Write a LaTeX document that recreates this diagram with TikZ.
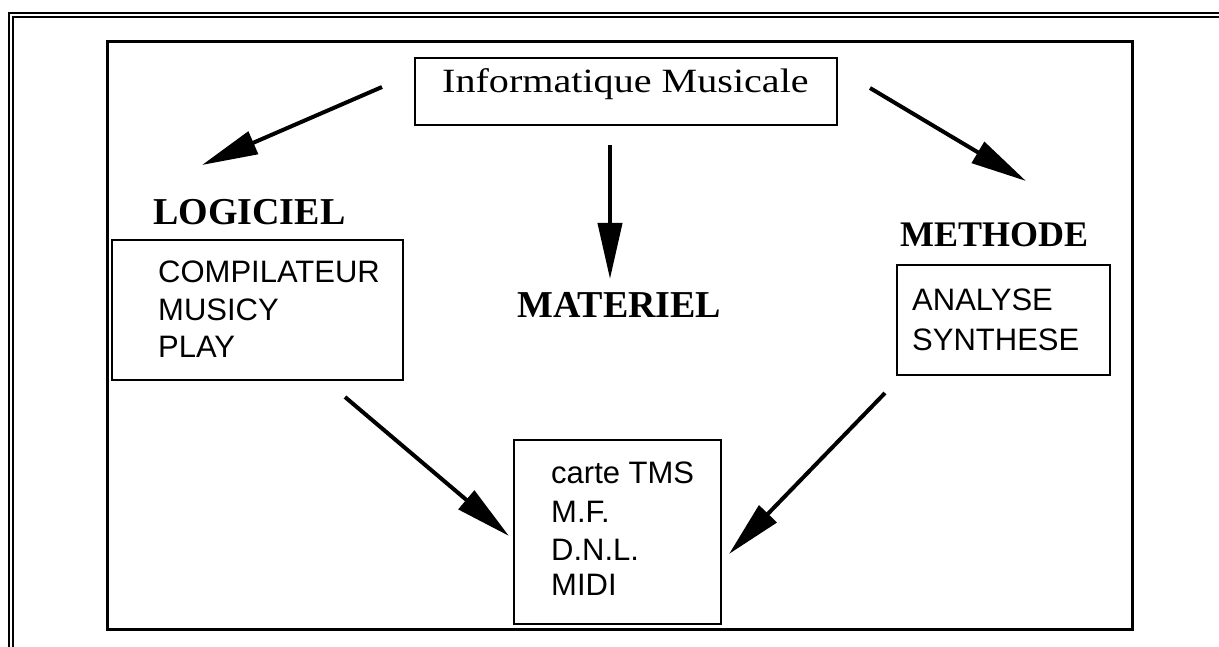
\documentclass[tikz,border=0pt]{standalone}
\usepackage{fontspec}
\setmainfont{Liberation Serif}
\newfontfamily\wideserif[FakeStretch=1.18]{Liberation Serif}
\newfontfamily\sansf{Liberation Sans}
\usetikzlibrary{arrows.meta}
\tikzset{
  box/.style={draw, line width=2pt, inner sep=0pt, minimum width=#1},
  item/.style={anchor=base west, inner sep=0pt, font=\sansf\fontsize{31}{37}\selectfont},
  head/.style={anchor=base west, inner sep=0pt},
  arr/.style={line width=4pt, -{Triangle[length=56pt,width=24pt]}},
}
\begin{document}
\begin{tikzpicture}[x=1pt,y=-1pt]
\useasboundingbox (0,0) rectangle (1219,647);
% outer double frame
\draw[line width=2pt] (9,647) -- (9,13.3) -- (1219,13.3);
\draw[line width=2pt] (13,647) -- (13,16.7) -- (1219,16.7);
% inner frame
\draw[line width=3pt] (107,42) rectangle (1132,629);
% boxes
\node[box=422pt, minimum height=67pt] (top) at (626,91.5) {};
\node[box=291pt, minimum height=140pt] (lbox) at (257.5,310) {};
\node[box=213pt, minimum height=110pt] (rbox) at (1003.5,320) {};
\node[box=207pt, minimum height=184pt] (bbox) at (617.5,532) {};
% texts
\node[head, font=\wideserif\fontsize{34}{40}\selectfont] (ttop) at (442,93) {Informatique Musicale};
\node[head, font=\bfseries\fontsize{38}{44}\selectfont] (tlog) at (153,225) {LOGICIEL};
\node[head, font=\bfseries\fontsize{36}{42}\selectfont] (tmet) at (900,247) {METHODE};
\node[head, font=\bfseries\fontsize{38}{44}\selectfont] (tmat) at (517,318) {MATERIEL};
\node[item] (l1) at (158,283) {COMPILATEUR};
\node[item] (l2) at (158,320) {MUSICY};
\node[item] (l3) at (158,357) {PLAY};
\node[item] (r1) at (912,310) {ANALYSE};
\node[item] (r2) at (912,350) {SYNTHESE};
\node[item] (b1) at (551,483) {carte TMS};
\node[item] (b2) at (551,522) {M.F.};
\node[item] (b3) at (551,560) {D.N.L.};
\node[item] (b4) at (551,595) {MIDI};
% arrow end points
\coordinate (a1s) at (382,87);
\coordinate (a1e) at (202,165);
\coordinate (a2s) at (610,145);
\coordinate (a2e) at (610,279);
\coordinate (a3s) at (870,88);
\coordinate (a3e) at (1026,181);
\coordinate (a4s) at (345,397);
\coordinate (a4e) at (509,536);
\coordinate (a5s) at (885,393);
\coordinate (a5e) at (729,554);
\draw[arr] (a1s) -- (a1e);
\draw[arr] (a2s) -- (a2e);
\draw[arr] (a3s) -- (a3e);
\draw[arr] (a4s) -- (a4e);
\draw[arr] (a5s) -- (a5e);
\end{tikzpicture}
\end{document}
